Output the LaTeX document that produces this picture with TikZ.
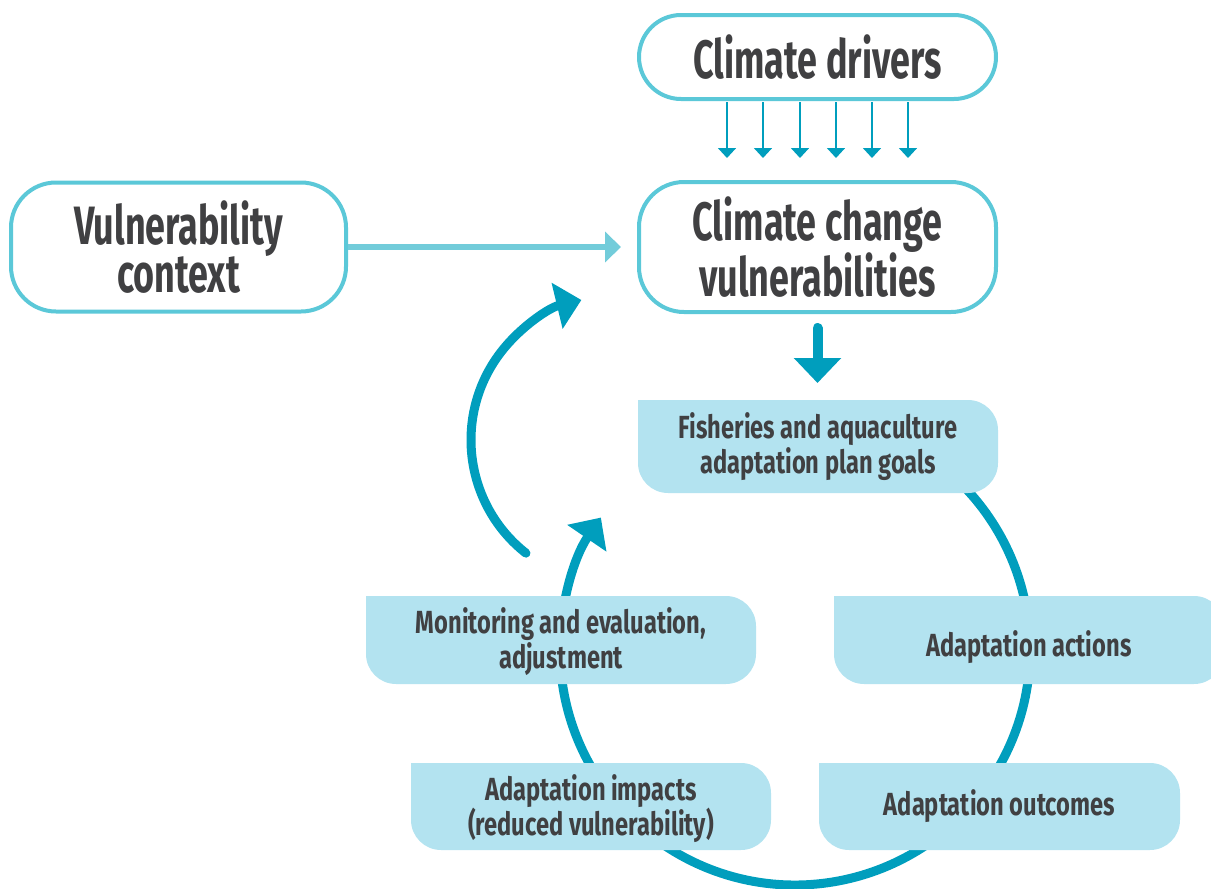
\documentclass[tikz,border=0pt]{standalone}
\usepackage{fontspec}
\setmainfont{Fira Sans}
\newfontfamily\bigf{Fira Sans}[FakeStretch=0.665]
\newfontfamily\smallf{Fira Sans}[FakeStretch=0.74]
\usetikzlibrary{arrows.meta,calc}
\definecolor{dteal}{RGB}{0,158,189}
\definecolor{lteal}{RGB}{91,200,216}
\definecolor{ctxline}{RGB}{114,204,218}
\definecolor{lfill}{RGB}{179,227,240}
\definecolor{txt}{RGB}{64,64,66}
\pgfdeclarelayer{back}
\pgfdeclarelayer{mid}
\pgfsetlayers{back,mid,main}
\begin{document}
\begin{tikzpicture}[x=1pt,y=-1pt,
  outbox/.style={draw=lteal, line width=4pt, fill=white, rounded corners=42pt, outer sep=0pt, inner sep=0pt, text=txt, align=center, font=\bigf\bfseries\fontsize{54}{46}\selectfont},
  lbox/.style={fill=lfill, rounded corners=30pt, outer sep=0pt, inner sep=0pt, text=txt, align=center, font=\smallf\bfseries\fontsize{32}{35}\selectfont},
  thinarrow/.style={draw=dteal, line width=1.8pt, -{Triangle[width=18pt,length=10pt]}},
  bigarrow/.style={draw=dteal, line width=9pt, -{Triangle[width=46pt,length=25pt]}},
]
\clip (0,0) rectangle (1211,889);
% boxes
\node[outbox, minimum width=357pt, minimum height=84pt] (drivers) at (817.5,57) {Climate drivers};
\node[outbox, minimum width=357pt, minimum height=130pt, rounded corners=45pt] (vuln) at (817.5,247) {Climate change\\vulnerabilities};
\node[outbox, minimum width=335pt, minimum height=129pt, rounded corners=45pt] (ctx) at (178.5,247) {Vulnerability\\context};
\node[lbox, minimum width=360pt, minimum height=93pt] (fish) at (818,446.5) {Fisheries and aquaculture\\adaptation plan goals};
\node[lbox, minimum width=390pt, minimum height=88pt, text depth=3pt] (mon) at (561,640) {Monitoring and evaluation,\\adjustment};
\node[lbox, minimum width=390pt, minimum height=88pt] (act) at (1029,640) {\raisebox{-16pt}[0pt][0pt]{Adaptation actions}};
\node[lbox, minimum width=360pt, minimum height=87pt, text depth=2pt] (imp) at (591,806.5) {Adaptation impacts\\(reduced vulnerability)};
\node[lbox, minimum width=361pt, minimum height=87pt] (out) at (999.5,806.5) {Adaptation outcomes};
\begin{pgfonlayer}{mid}
\foreach \n in {fish,mon,act,imp,out} \fill[lfill] (\n.north west) rectangle (\n.center);
\end{pgfonlayer}
% connectors
\foreach \dx in {-90.5,-54.5,-17.5,18.5,54.5,90.5}
  \draw[thinarrow, shorten <=3pt, shorten >=24pt] ($(drivers.south)+(\dx,0)$) -- ($(vuln.north)+(\dx,0)$);
\draw[draw=ctxline, line width=6pt, -{Triangle[width=30pt,length=16pt]}, shorten <=2pt, shorten >=18pt] (ctx.east) -- (ctx.east -| vuln.west);
\draw[bigarrow, line width=10pt, line cap=round, shorten <=16pt, shorten >=17pt] (vuln.south) -- (vuln.south |- fish.north);
\begin{pgfonlayer}{back}
\draw[bigarrow] (795,650) ++(-60:235) arc[start angle=-60, end angle=214.3, radius=235];
\draw[bigarrow, line cap=round] (615,440) ++(128.2:144) arc[start angle=128.2, end angle=256.5, radius=144];
\end{pgfonlayer}
\end{tikzpicture}
\end{document}
